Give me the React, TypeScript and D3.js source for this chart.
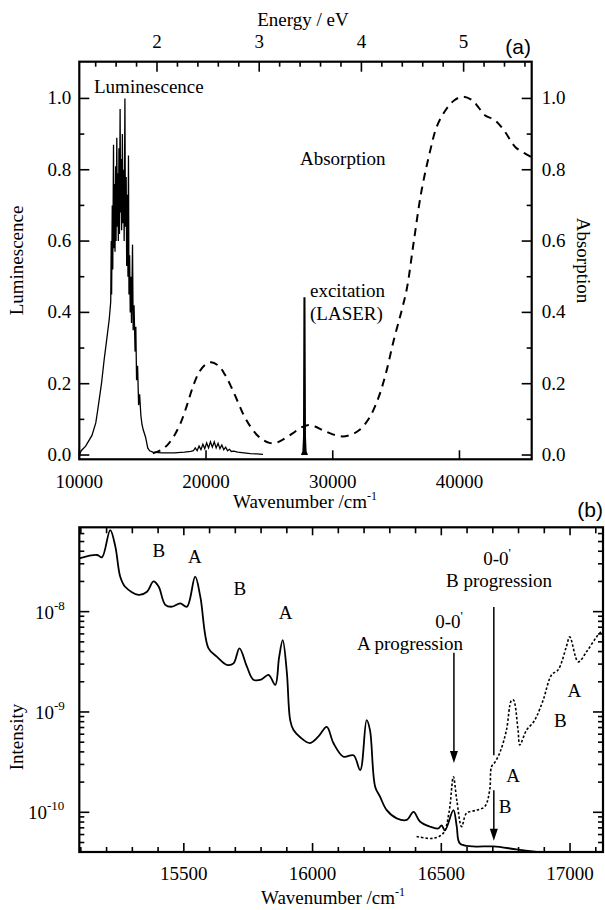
import React from "react";
import * as d3 from "d3";

// ---- panel (a) data: wavenumber (cm-1), normalised value ----
const luminescence: [number, number][] = [
  [10000, 0.0], [10150, 0.012], [10500, 0.025], [11000, 0.055], [11300, 0.09],
  [11450, 0.125], [11750, 0.2], [11970, 0.27], [12150, 0.32], [12360, 0.38],
  [12480, 0.43], [12520, 0.6], [12550, 0.45], [12600, 0.7], [12640, 0.52],
  [12700, 0.87], [12730, 0.58], [12780, 0.76], [12820, 0.57], [12870, 0.81],
  [12900, 0.6], [12960, 0.89], [13000, 0.64], [13050, 0.79], [13080, 0.6],
  [13130, 0.86], [13170, 0.62], [13220, 0.97], [13260, 0.68], [13300, 0.83],
  [13340, 0.63], [13400, 0.9], [13440, 0.65], [13500, 0.8], [13540, 0.6],
  [13600, 1.0], [13640, 0.64], [13700, 0.78], [13740, 0.53], [13800, 0.73],
  [13840, 0.5], [13880, 0.84], [13920, 0.45], [13970, 0.56], [14020, 0.4],
  [14070, 0.5], [14120, 0.37], [14200, 0.59], [14250, 0.35], [14320, 0.42],
  [14400, 0.29], [14460, 0.36], [14520, 0.21], [14600, 0.25], [14680, 0.14],
  [14760, 0.17], [14860, 0.11], [14950, 0.085], [15050, 0.07], [15230, 0.05],
  [15400, 0.02], [15550, 0.012], [15800, 0.008], [16500, 0.006], [17500, 0.006],
  [18300, 0.008], [18800, 0.01], [19000, 0.012], [19150, 0.02], [19300, 0.012],
  [19450, 0.025], [19600, 0.015], [19750, 0.03], [19900, 0.018], [20050, 0.034],
  [20200, 0.02], [20350, 0.037], [20500, 0.022], [20650, 0.037], [20800, 0.02],
  [20950, 0.033], [21100, 0.018], [21250, 0.028], [21400, 0.015], [21550, 0.022],
  [21700, 0.012], [21850, 0.016], [22000, 0.01], [22200, 0.011], [22500, 0.008],
  [23000, 0.006], [23500, 0.004], [24000, 0.003], [24500, 0.002],
];

const laser: [number, number][] = [
  [27550, 0.0], [27660, 0.01], [27710, 0.05], [27745, 0.44], [27790, 0.44],
  [27830, 0.05], [27880, 0.01], [27990, 0.0],
];

const absorption: [number, number][] = [
  [15800, 0.005], [16500, 0.015], [17000, 0.03], [17500, 0.055], [18000, 0.09],
  [18500, 0.14], [19000, 0.195], [19500, 0.235], [20000, 0.255], [20400, 0.26],
  [21000, 0.25], [21500, 0.225], [22000, 0.19], [22500, 0.15], [23000, 0.11],
  [23500, 0.08], [24000, 0.057], [24500, 0.042], [25000, 0.034], [25400, 0.033],
  [26000, 0.042], [26800, 0.06], [27500, 0.077], [28100, 0.084], [28600, 0.08],
  [29200, 0.07], [30000, 0.058], [30800, 0.052], [31500, 0.058], [32100, 0.07],
  [32900, 0.105], [33600, 0.16], [34200, 0.23], [34800, 0.32], [35400, 0.4],
  [35850, 0.467], [36400, 0.6], [37000, 0.74], [37700, 0.855], [38200, 0.92],
  [38900, 0.967], [39600, 0.995], [40300, 1.005], [41000, 0.995], [41500, 0.975],
  [42000, 0.953], [42800, 0.939], [43600, 0.906], [44400, 0.864], [45400, 0.841],
  [45700, 0.835],
];

const ticksA = [0, 0.2, 0.4, 0.6, 0.8, 1.0];
const ticksWnA = [10000, 20000, 30000, 40000];
const energyMajor = [2, 3, 4, 5];
const EV = 8065.54;

// ---- panel (b) data: wavenumber (cm-1), intensity ----
const emission: [number, number][] = [
  [15094, 3.4e-8], [15163, 3.67e-8], [15182, 3.48e-8], [15214, 6.5e-8], [15234, 4.45e-8],
  [15253, 2.23e-8], [15272, 1.77e-8], [15324, 1.47e-8], [15357, 1.58e-8], [15382, 2.0e-8],
  [15402, 1.78e-8], [15428, 1.17e-8], [15454, 1.12e-8], [15486, 1.21e-8], [15512, 1.12e-8],
  [15544, 2.23e-8], [15564, 1.41e-8], [15596, 4.3e-9], [15628, 3.56e-9], [15667, 2.95e-9],
  [15693, 3.05e-9], [15716, 4.3e-9], [15745, 2.83e-9], [15770, 2.1e-9], [15800, 2.1e-9],
  [15829, 2.34e-9], [15855, 1.86e-9], [15870, 3.5e-9], [15884, 5.2e-9], [15900, 2.5e-9],
  [15913, 8.3e-10], [15926, 6.6e-10], [15952, 5.6e-10], [15990, 4.9e-10], [16023, 5.7e-10],
  [16055, 7.1e-10], [16081, 4.9e-10], [16120, 3.58e-10], [16159, 3.7e-10], [16185, 2.64e-10],
  [16210, 8.3e-10], [16223, 6.6e-10], [16243, 1.8e-10], [16262, 1.43e-10], [16288, 1.05e-10],
  [16327, 8.7e-11], [16366, 8.4e-11], [16392, 1.01e-10], [16417, 8.1e-11], [16456, 7.2e-11],
  [16488, 6.9e-11], [16501, 7.4e-11], [16514, 6.6e-11], [16547, 1.05e-10], [16560, 7.2e-11],
  [16572, 4.9e-11], [16624, 4.57e-11], [16702, 4.57e-11], [16792, 4.27e-11], [16880, 4.0e-11],
];

const excitation: [number, number][] = [
  [16404, 5.75e-11], [16468, 5.5e-11], [16508, 6.2e-11], [16530, 1.0e-10], [16547, 2.26e-10],
  [16560, 1.33e-10], [16579, 7.2e-11], [16598, 9.8e-11], [16637, 1.05e-10], [16669, 1.14e-10],
  [16688, 1.67e-10], [16695, 2.85e-10], [16710, 3.2e-10], [16730, 4.1e-10], [16753, 6.6e-10],
  [16772, 1.3e-9], [16780, 1.32e-9], [16798, 6.6e-10], [16805, 4.7e-10], [16831, 6.6e-10],
  [16856, 7.8e-10], [16870, 9.0e-10], [16896, 1.32e-9], [16928, 2.34e-9], [16954, 2.63e-9],
  [16986, 4.5e-9], [16999, 5.6e-9], [17032, 3.16e-9], [17064, 3.98e-9], [17103, 5.6e-9],
  [17128, 6.6e-9],
];

// arrows: wavenumber, start intensity, tip intensity, head?
const arrows: [number, number, number, boolean][] = [
  [16549, 3.9e-9, 3.1e-10, true],
  [16704, 1.11e-8, 3.7e-10, false],
  [16704, 1.66e-10, 5.2e-11, true],
];

// progression letters: text, wavenumber, intensity (baseline)
const letters: [string, number, number][] = [
  ["B", 15403, 3.5e-8], ["A", 15543, 3.06e-8], ["B", 15718, 1.47e-8], ["A", 15895, 8.45e-9],
  ["A", 17017, 1.41e-9], ["B", 16962, 7.1e-10], ["A", 16779, 2.0e-10], ["B", 16748, 9.8e-11],
];

const ticksWnB = d3.range(15100, 17101, 100);
const serif = "'Liberation Serif', 'Times New Roman', serif";
const sans = "'Liberation Sans', Arial, sans-serif";

export default function App() {
  const W = 605;
  const H = 910;

  const xA = d3.scaleLinear().domain([10000, 45700]).range([79.3, 531.7]);
  const yA = d3.scaleLinear().domain([-0.012, 1.103]).range([459.3, 61.7]);
  const xB = d3.scaleLinear().domain([15094, 17128]).range([79.3, 603]);
  const yB = d3.scaleLog().domain([4.02e-11, 6.93e-8]).range([852, 527.3]);

  const lineA = d3.line<[number, number]>().x((d) => xA(d[0])).y((d) => yA(d[1]));
  const smoothA = d3.line<[number, number]>().x((d) => xA(d[0])).y((d) => yA(d[1])).curve(d3.curveCatmullRom);
  const smoothB = d3.line<[number, number]>().x((d) => xB(d[0])).y((d) => yB(d[1])).curve(d3.curveCatmullRom);

  const [ax0, ax1] = xA.range();
  const [ay0, ay1] = yA.range();
  const [bx0, bx1] = xB.range();
  const [by0, by1] = yB.range();

  const minorA = d3.range(0, 11).map((i) => i / 10);
  const energyMinor = d3.range(14, 58, 2).map((v) => v / 10).filter((e) => !energyMajor.includes(e));

  const logTicks: { v: number; major: boolean }[] = [];
  for (let d = -11; d <= -7; d++) {
    for (let k = 1; k <= 9; k++) {
      const v = k * Math.pow(10, d);
      if (v >= yB.domain()[0] && v <= yB.domain()[1]) logTicks.push({ v, major: k === 1 });
    }
  }
  const logLabels = [-8, -9, -10];

  const axis = { stroke: "#000", strokeWidth: 2.2, fill: "none" };
  const tk = { stroke: "#000", strokeWidth: 1.6 };

  return (
    <svg width={W} height={H} style={{ position: "absolute", left: 0, top: 0, background: "#fff" }}
      fontFamily={serif}>
      <defs>
        <clipPath id="clipA"><rect x={ax0} y={ay1} width={ax1 - ax0} height={ay0 - ay1} /></clipPath>
        <clipPath id="clipB"><rect x={bx0} y={by1} width={bx1 - bx0} height={by0 - by1} /></clipPath>
      </defs>

      {/* ===== panel (a) ===== */}
      <g clipPath="url(#clipA)">
        <path d={lineA(luminescence) || ""} fill="none" stroke="#000" strokeWidth={1.3} />
        <path d={lineA(laser) || ""} fill="#000" stroke="#000" strokeWidth={1.5} />
        <path d={smoothA(absorption) || ""} fill="none" stroke="#000" strokeWidth={2}
          strokeDasharray="8,6" />
      </g>

      {minorA.map((v, i) => {
        const major = i % 2 === 0;
        const len = major ? 10 : 5;
        return (
          <g key={"ya" + i}>
            <line x1={ax0} x2={ax0 + len} y1={yA(v)} y2={yA(v)} {...tk} />
            <line x1={ax1} x2={ax1 - len} y1={yA(v)} y2={yA(v)} {...tk} />
          </g>
        );
      })}
      {ticksA.map((v) => (
        <g key={"la" + v} fontSize={19}>
          <text x={ax0 - 8} y={yA(v) + 6} textAnchor="end">{v.toFixed(1)}</text>
          <text x={ax1 + 10} y={yA(v) + 6} textAnchor="start">{v.toFixed(1)}</text>
        </g>
      ))}
      {ticksWnA.map((v) => (
        <g key={"xa" + v}>
          <line x1={xA(v)} x2={xA(v)} y1={ay0} y2={ay0 - 9} {...tk} />
          <text x={xA(v)} y={488} textAnchor="middle" fontSize={19}>{v}</text>
        </g>
      ))}
      {energyMajor.map((e) => (
        <g key={"ea" + e}>
          <line x1={xA(e * EV)} x2={xA(e * EV)} y1={ay1} y2={ay1 + 10} {...tk} />
          <text x={xA(e * EV)} y={48} textAnchor="middle" fontSize={19}>{e}</text>
        </g>
      ))}
      {energyMinor.map((e) => (
        <line key={"em" + e} x1={xA(e * EV)} x2={xA(e * EV)} y1={ay1} y2={ay1 + 5} {...tk} />
      ))}
      <rect x={ax0} y={ay1} width={ax1 - ax0} height={ay0 - ay1} {...axis} />

      <text x={303} y={26} textAnchor="middle" fontSize={19}>Energy / eV</text>
      <text x={531} y={54} textAnchor="end" fontSize={21} fontFamily={sans}>(a)</text>
      <text x={305} y={508} textAnchor="middle" fontSize={19}>
        Wavenumber /cm<tspan dy={-8} fontSize={12}>-1</tspan>
      </text>
      <text transform={`translate(23,${(ay0 + ay1) / 2}) rotate(-90)`} textAnchor="middle" fontSize={19}>
        Luminescence
      </text>
      <text transform={`translate(577,${(ay0 + ay1) / 2}) rotate(90)`} textAnchor="middle" fontSize={19}>
        Absorption
      </text>
      <text x={94} y={93} fontSize={19}>Luminescence</text>
      <text x={300} y={165} fontSize={19}>Absorption</text>
      <text x={310} y={297} fontSize={19}>excitation</text>
      <text x={310} y={320} fontSize={19}>(LASER)</text>

      {/* ===== panel (b) ===== */}
      <g clipPath="url(#clipB)">
        <path d={smoothB(emission) || ""} fill="none" stroke="#000" strokeWidth={1.8} />
        <path d={smoothB(excitation) || ""} fill="none" stroke="#000" strokeWidth={1.6}
          strokeDasharray="2.5,2" />
      </g>

      {logTicks.map((t, i) => {
        const len = t.major ? 10 : 5;
        return (
          <g key={"lb" + i}>
            <line x1={bx0} x2={bx0 + len} y1={yB(t.v)} y2={yB(t.v)} {...tk} />
            <line x1={bx1} x2={bx1 - len} y1={yB(t.v)} y2={yB(t.v)} {...tk} />
          </g>
        );
      })}
      {logLabels.map((p) => (
        <text key={"ll" + p} x={p === -10 ? 28 : 35} y={yB(Math.pow(10, p)) + 7} fontSize={19}>
          10<tspan dy={-9} fontSize={13}>{String(p)}</tspan>
        </text>
      ))}
      {ticksWnB.map((v) => {
        const major = v % 500 === 0;
        const len = major ? 9 : 5;
        return (
          <g key={"xb" + v}>
            <line x1={xB(v)} x2={xB(v)} y1={by0} y2={by0 - len} {...tk} />
            <line x1={xB(v)} x2={xB(v)} y1={by1} y2={by1 + (major ? 8 : 6)} {...tk} />
            {major && (
              <text x={xB(v)} y={880} textAnchor="middle" fontSize={19}>{v}</text>
            )}
          </g>
        );
      })}
      <rect x={bx0} y={by1} width={bx1 - bx0} height={by0 - by1} {...axis} />

      {arrows.map(([w, a, b, head], i) => (
        <g key={"ar" + i}>
          <line x1={xB(w)} x2={xB(w)} y1={yB(a)} y2={yB(b) - (head ? 6 : 0)} stroke="#000" strokeWidth={1.5} />
          {head && (
            <path d={`M${xB(w) - 4},${yB(b) - 12} L${xB(w) + 4},${yB(b) - 12} L${xB(w)},${yB(b)} Z`} fill="#000" />
          )}
        </g>
      ))}
      {letters.map(([t, w, v], i) => (
        <text key={"lt" + i} x={xB(w)} y={yB(v)} textAnchor="middle" fontSize={19}>{t}</text>
      ))}
      <text x={497} y={565} textAnchor="middle" fontSize={19}>
        0-0<tspan dy={-8} fontSize={13}>'</tspan>
      </text>
      <text x={499} y={587} textAnchor="middle" fontSize={19}>B progression</text>
      <text x={449} y={628} textAnchor="middle" fontSize={19}>
        0-0<tspan dy={-8} fontSize={13}>'</tspan>
      </text>
      <text x={410} y={650} textAnchor="middle" fontSize={19}>A progression</text>

      <text x={603} y={517} textAnchor="end" fontSize={21} fontFamily={sans}>(b)</text>
      <text transform={`translate(23,737) rotate(-90)`} textAnchor="middle" fontSize={19}>Intensity</text>
      <text x={333} y={904} textAnchor="middle" fontSize={19}>
        Wavenumber /cm<tspan dy={-8} fontSize={12}>-1</tspan>
      </text>
    </svg>
  );
}
